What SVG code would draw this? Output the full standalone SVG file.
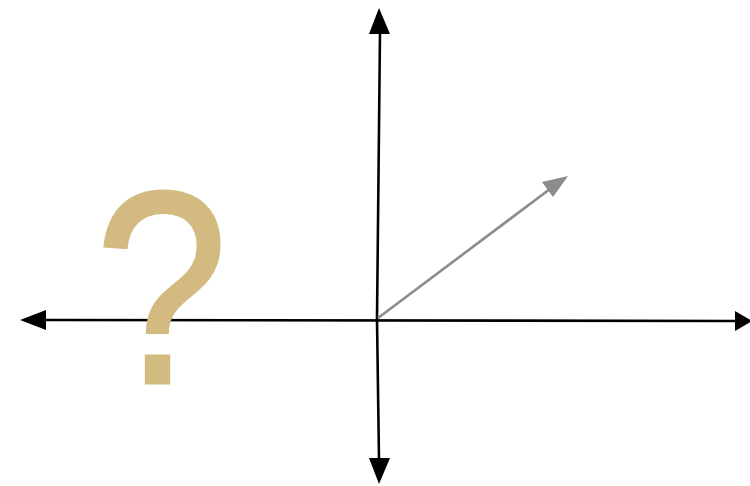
<svg xmlns="http://www.w3.org/2000/svg" width="750" height="486" viewBox="0 0 750 486">
<style>
.axis{stroke:#000;stroke-width:2.6;fill:none}
.vec{stroke:#8c8c8c;stroke-width:2.6;fill:none}
.head{fill:#000}
.vhead{fill:#8c8c8c}
.q{font-family:"Liberation Sans",Arial,sans-serif;font-size:275px;fill:#D2BA80;stroke:#D2BA80;stroke-width:3}
</style>
<rect width="750" height="486" fill="#fff"/>
<g id="connectors">
<line class="axis" x1="44" y1="320" x2="738" y2="321"/>
<polygon class="head" points="20,320 46,310 46,330"/>
<polygon class="head" points="752,321 735,311 735,331"/>
<polyline class="axis" points="380,32 377,319 379,460"/>
<polygon class="head" points="379,8 369,34 390,34"/>
<polygon class="head" points="379,484 369,458 390,458"/>
<line class="vec" x1="378" y1="318" x2="550" y2="189"/>
<polygon class="vhead" points="568,176 542,182 553,197"/>
</g>
<g id="question">
<text class="q" transform="translate(95,383) scale(0.87,1)">?</text>
</g>
</svg>
